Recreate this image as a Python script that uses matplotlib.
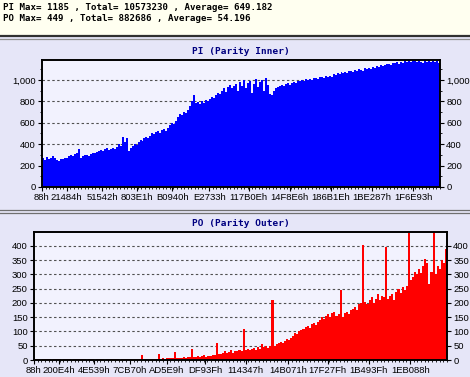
import matplotlib
matplotlib.use("Agg")
import matplotlib.pyplot as plt
from matplotlib.patches import Rectangle
from matplotlib.lines import Line2D
from matplotlib.ticker import FixedLocator, MultipleLocator, FuncFormatter

# ---------------- data ----------------
X_START = 0x88
X_END = 2207000
N_SAMPLES = 200

PI_VALUES = [
    270, 255, 280, 265, 275, 285, 270,
    250, 245, 260,
    265, 275, 270, 285, 295, 290, 305,
    315, 355, 275,
    285, 295, 300, 290, 310, 320, 315, 330, 340,
    345, 335, 350, 360, 345, 355, 365, 350, 375,
    400, 385, 470, 420, 460,
    340, 360,
    380, 400, 395, 420, 440, 430, 455, 470, 460,
    480, 500, 490, 510, 520, 505, 530, 540, 525,
    550, 580, 600, 590,
    620, 650, 680, 670, 700, 690, 720,
    760, 800, 860, 780,
    790, 770, 800, 780, 810, 800,
    820, 840, 830, 860, 880, 870, 900, 920, 890, 930, 950, 920, 940,
    960, 900, 980, 940, 1000, 920, 970, 990, 880, 960, 1010, 930, 980, 1000, 900, 1020, 950,
    870, 860, 900, 920,
    930, 940, 950, 945, 960, 970, 955, 975, 980, 970, 990, 985, 1000, 990, 1005, 995,
    1010, 1000, 1015, 1020, 1010, 1025, 1030, 1020, 1035, 1030,
    1040, 1030, 1050, 1045, 1060, 1050, 1070, 1060, 1075, 1065, 1080, 1085, 1075,
    1090, 1080, 1100, 1095, 1085, 1110, 1100, 1115, 1105, 1120, 1110, 1130, 1120, 1140, 1125, 1135, 1145,
    1150, 1140, 1160, 1155, 1165, 1150, 1170, 1160, 1175, 1165, 1180, 1170, 1185, 1175, 1165, 1180,
    1170, 1160, 1175, 1170, 1180, 1165, 1175, 1170, 1180, 1160,
]

PO_VALUES = [
    3, 2, 4, 1, 3, 5, 2, 3, 1, 2, 4, 3, 2, 1, 3, 2, 4, 2, 1, 3, 2, 5, 3, 2, 4, 1,
    2, 3, 2, 1, 3, 4, 2, 3, 1, 2, 3, 2, 4, 3, 2, 1, 3, 2, 4, 3, 2, 3, 4, 2, 3,
    3, 16, 4, 3, 5, 4, 3, 5, 4,
    20, 5, 6, 4, 7, 6, 8,
    8, 28, 7, 8, 6, 9, 8, 10, 9,
    40, 12, 10, 14, 11, 13, 18, 12, 15, 14, 16, 18,
    58, 20, 22, 25, 30, 24, 28, 35, 26,
    32, 30, 36, 33,
    110, 35, 38, 34, 40, 42, 36, 44, 40, 55, 45, 48,
    42, 50, 210,
    50, 55, 58, 62, 60, 68, 72, 70, 78, 85, 95, 90, 100, 105,
    110, 115, 120, 112, 125, 130, 122, 135, 140, 150, 145, 155, 160, 150, 165, 170,
    155, 160, 245, 150, 165, 170, 160, 175, 180, 185, 175, 195, 200,
    405, 205, 195, 210, 220, 200, 215, 230, 210, 225, 220,
    395, 215, 225, 230, 210, 240, 250, 235, 255, 245, 260,
    445, 280, 290, 310, 300, 320, 305, 330,
    355, 340, 265, 310, 449, 300, 330, 320, 350, 340, 390,
]

PI_XTICK_LABELS = ['88h', '21484h', '51542h', '803E1h', 'B0940h', 'E2733h',
                   '117B0Eh', '14F8E6h', '186B1Eh', '1BE287h', '1F6E93h']
PO_XTICK_LABELS = ['88h', '200E4h', '4E539h', '7CB70h', 'AD5E9h', 'DF93Fh',
                   '114347h', '14B071h', '17F27Fh', '1B493Fh', '1EB088h']

PI_YTICKS = [0, 200, 400, 600, 800, 1000]
PO_YTICKS = [0, 50, 100, 150, 200, 250, 300, 350, 400]

PI_TITLE = "PI (Parity Inner)"
PO_TITLE = "PO (Parity Outer)"
HEADER_1 = "PI Max= 1185 , Total= 10573230 , Average= 649.182"
HEADER_2 = "PO Max= 449 , Total= 882686 , Average= 54.196"
PI_MAX = 1185
PO_MAX = 449

# ---------------- figure ----------------
W, H = 470, 377
PANEL_BG = '#E6E6F8'
AX_BG = '#F2F2FE'
HEADER_BG = '#FFFFF0'

fig = plt.figure(figsize=(W / 100, H / 100), dpi=100, facecolor=PANEL_BG)


def px_rect(x0, y0, x1, y1):
    return [x0 / W, 1 - y1 / H, (x1 - x0) / W, (y1 - y0) / H]


# header
fig.patches.append(Rectangle((0, 1 - 35 / H), 1, 35 / H, transform=fig.transFigure,
                             facecolor=HEADER_BG, edgecolor='none', zorder=0))
for y, c, lw in [(35.5, '#303030', 1.6), (38.5, '#909090', 0.9),
                 (209.5, '#707070', 0.9), (212.5, '#707070', 0.9)]:
    fig.add_artist(Line2D([0, 1], [1 - y / H, 1 - y / H], transform=fig.transFigure,
                          color=c, linewidth=lw))

mono = dict(family='DejaVu Sans Mono', weight='bold', size=6.6, color='black')
fig.text(3 / W, 1 - 7.5 / H, HEADER_1, va='center', ha='left', **mono)
fig.text(3 / W, 1 - 18.5 / H, HEADER_2, va='center', ha='left', **mono)

step = (X_END - X_START) / N_SAMPLES
edges = [X_START + i * step for i in range(N_SAMPLES + 1)]


def style_axes(ax, values, color, ymax, yticks, xlabels, title, title_y, yfmt):
    ax.set_facecolor(AX_BG)
    ax.stairs(values, edges, fill=True, color=color, linewidth=0, zorder=2)
    ax.set_xlim(X_START, X_END)
    ax.set_ylim(0, ymax)
    ax.set_axisbelow(True)
    ax.yaxis.grid(True, linestyle=(0, (2.2, 2.2)), color='#505050', linewidth=0.8)
    ax.yaxis.set_major_locator(FixedLocator(yticks))
    ax.yaxis.set_major_formatter(FuncFormatter(yfmt))
    xt = [int(s[:-1], 16) for s in xlabels]
    ax.xaxis.set_major_locator(FixedLocator(xt))
    ax.set_xticklabels(xlabels)
    ax.xaxis.set_minor_locator(MultipleLocator(19700))
    for sp in ax.spines.values():
        sp.set_linewidth(1.4)
        sp.set_color('black')
    ax.tick_params(axis='both', which='major', direction='out', length=3, width=0.8,
                   labelsize=6.8, pad=1.5, colors='black')
    ax.tick_params(axis='x', which='minor', direction='out', length=1.5, width=0.6)
    ax.tick_params(axis='y', which='both', left=True, right=True, labelleft=True,
                   labelright=True)
    ax.tick_params(axis='y', which='minor', length=1.5, width=0.6)
    for lab in ax.get_xticklabels() + ax.get_yticklabels():
        lab.set_family('Liberation Sans')
    for lab in ax.yaxis.get_ticklabels(which='major'):
        pass
    fig.text(ax.get_position().x0 + ax.get_position().width / 2, 1 - title_y / H, title,
             ha='center', va='center', family='DejaVu Sans Mono', weight='bold',
             size=6.8, color='#000080')


ax1 = fig.add_axes(px_rect(42, 60, 440, 187))
style_axes(ax1, PI_VALUES, '#0000FF', PI_MAX, PI_YTICKS, PI_XTICK_LABELS, PI_TITLE, 51,
           lambda v, p: f"{int(v):,}")
ax1.yaxis.set_minor_locator(MultipleLocator(100))

ax2 = fig.add_axes(px_rect(34, 232, 447, 360))
style_axes(ax2, PO_VALUES, '#FF0000', PO_MAX, PO_YTICKS, PO_XTICK_LABELS, PO_TITLE, 223,
           lambda v, p: f"{int(v)}")

for ax in (ax1, ax2):
    for lab in ax.get_yticklabels(which='both'):
        lab.set_family('Liberation Sans')
    for t in ax.yaxis.get_major_ticks():
        t.label2.set_family('Liberation Sans')
        t.label1.set_family('Liberation Sans')

fig.savefig('out.png', dpi=100, facecolor=PANEL_BG)
